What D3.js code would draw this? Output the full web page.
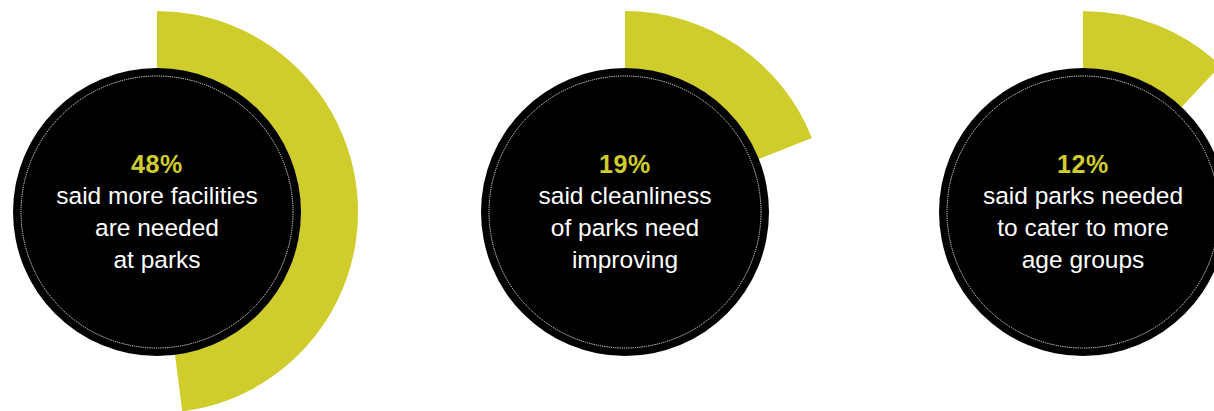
<!DOCTYPE html>
<html>
<head>
<meta charset="utf-8">
<script src="https://cdn.jsdelivr.net/npm/d3@7"></script>
<style>
  body { margin: 0; background: #fff; }
  svg { display: block; }
</style>
</head>
<body>
<script>
// survey results
var percents = [48, 19, 12];
var labels = [
  ["said more facilities", "are needed", "at parks"],
  ["said cleanliness", "of parks need", "improving"],
  ["said parks needed", "to cater to more", "age groups"]
];

var width = 1214,
    height = 411;

var lime = "#cfcd2c";
var centerX = [157, 625, 1083],
    centerY = 212;
var outerR = 201,
    circleR = 144,
    dotR = 136;

var svg = d3.select("body").append("svg")
  .attr("width", width)
  .attr("height", height);

var angle = d3.scaleLinear().domain([0, 100]).range([0, 2 * Math.PI]);

var arc = d3.arc()
  .innerRadius(0)
  .outerRadius(outerR)
  .startAngle(0)
  .endAngle(function(d) { return angle(d); });

var groups = svg.selectAll(".stat")
  .data(percents)
  .enter()
  .append("g")
  .attr("class", "stat")
  .attr("transform", function(d, i) { return "translate(" + centerX[i] + "," + centerY + ")"; });

groups.append("path")
  .attr("d", arc)
  .attr("fill", lime);

groups.append("circle")
  .attr("r", circleR)
  .attr("fill", "#000");

groups.append("circle")
  .attr("r", dotR)
  .attr("fill", "none")
  .attr("stroke", "#fff")
  .attr("stroke-width", 0.9)
  .attr("stroke-dasharray", "1.2,1");

groups.append("text")
  .attr("text-anchor", "middle")
  .attr("y", -39)
  .attr("fill", lime)
  .style("font-family", "'Liberation Sans', Arial, sans-serif")
  .style("font-weight", "bold")
  .style("font-size", "25px")
  .style("letter-spacing", "0.6px")
  .text(function(d) { return d + "%"; });

groups.each(function(d, i) {
  var t = d3.select(this).append("text")
    .attr("text-anchor", "middle")
    .attr("fill", "#fff")
    .style("font-family", "'Liberation Sans', Arial, sans-serif")
    .style("font-size", "24.5px");
  t.selectAll("tspan")
    .data(labels[i])
    .enter()
    .append("tspan")
    .attr("x", 0)
    .attr("y", function(l, j) { return -8 + j * 32; })
    .text(function(l) { return l; });
});
</script>
</body>
</html>
